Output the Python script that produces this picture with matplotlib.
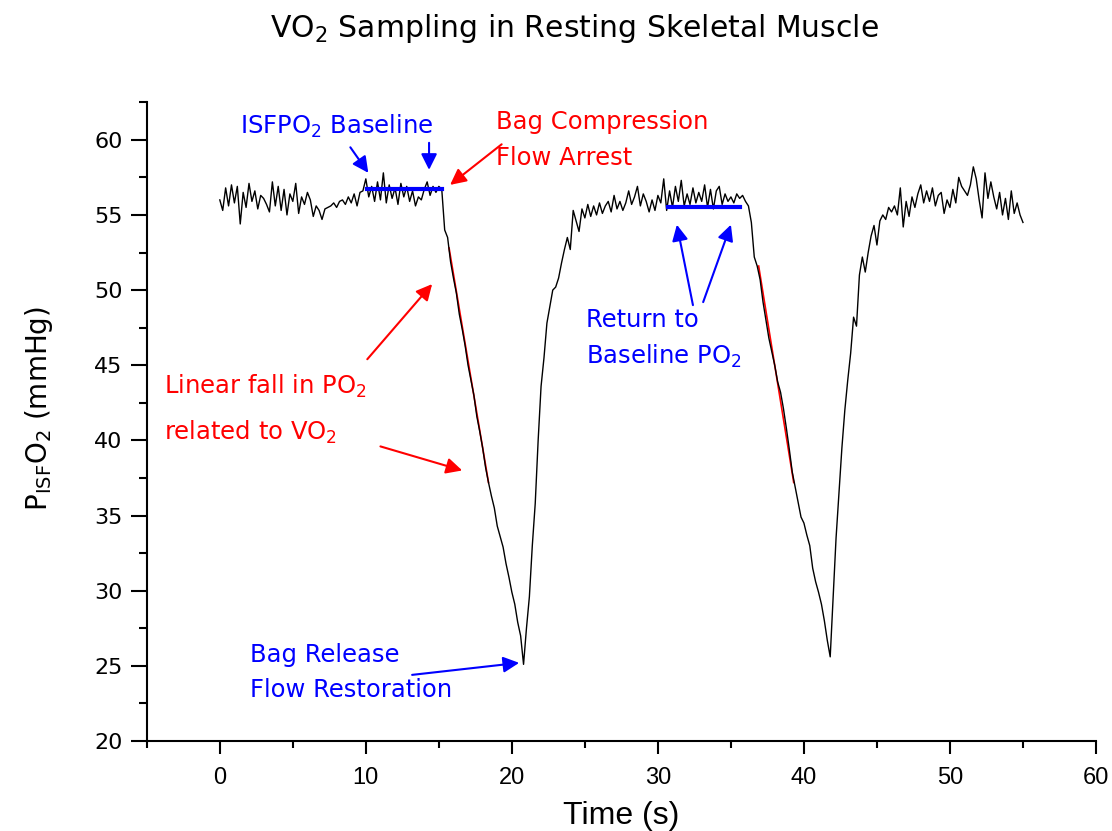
import numpy as np
import matplotlib
matplotlib.use("Agg")
import matplotlib.pyplot as plt
from matplotlib.ticker import MultipleLocator

plt.rcParams['font.family'] = ['DejaVu Sans']
plt.rcParams['mathtext.default'] = 'regular'

# sampled trace: one value every 0.2 s from t = 0 s
dt = 0.2
po2 = [
    56.0, 55.3, 56.8, 55.6, 57.0,
    55.8, 56.9, 54.4, 56.5, 55.5,
    57.1, 55.9, 56.6, 55.4, 56.3,
    56.1, 55.7, 55.2, 57.2, 55.6,
    56.9, 55.3, 56.7, 55.0, 56.4,
    55.9, 57.1, 55.1, 56.2, 55.7,
    56.5, 56.0, 54.9, 55.6, 55.3,
    54.7, 55.4, 55.5, 55.6, 55.8,
    55.5, 55.9, 56.0, 55.7, 56.2,
    55.8, 56.4, 55.6, 56.5, 56.6,
    57.4, 56.2, 56.9, 55.9, 57.2,
    56.0, 57.8, 55.8, 57.0, 56.1,
    56.8, 55.7, 57.1, 56.2, 56.9,
    55.9, 56.6, 55.6, 56.2, 56.0,
    56.7, 57.2, 56.3, 56.9, 56.5,
    56.9, 56.7, 54.0, 53.5, 51.9,
    50.8, 49.8, 48.4, 47.4, 46.3,
    45.0, 44.0, 43.0, 41.6, 40.6,
    39.5, 38.2, 37.2, 36.3, 35.5,
    34.3, 33.6, 32.9, 31.8, 30.9,
    29.9, 29.1, 27.9, 27.0, 25.1,
    27.5, 29.6, 33.0, 35.8, 40.0,
    43.6, 45.5, 47.8, 48.9, 50.0,
    50.2, 50.8, 51.8, 52.7, 53.5,
    52.7, 55.3, 54.6, 53.9, 55.4,
    54.8, 55.7, 54.9, 55.6, 55.0,
    55.8, 55.1, 55.6, 55.9, 55.2,
    56.3, 55.4, 55.9, 55.3, 55.8,
    56.6, 55.7, 56.2, 56.9, 55.6,
    56.4, 55.9, 55.2, 56.0, 55.3,
    56.3, 55.8, 57.4, 55.3, 56.6,
    55.5, 56.9, 55.9, 57.3, 55.6,
    56.4, 55.7, 56.8, 55.8, 56.5,
    55.9, 57.0, 55.5, 56.7, 55.4,
    56.6, 56.9, 55.7, 56.4, 55.9,
    56.2, 55.8, 56.4, 56.1, 56.3,
    55.9, 55.6, 54.5, 52.2, 51.6,
    50.7, 49.2, 48.0, 46.8, 45.9,
    45.0, 43.9, 43.2, 42.1, 40.8,
    39.4, 37.9, 36.9, 35.9, 34.9,
    34.5, 33.7, 33.0, 31.5, 30.6,
    29.9, 29.1, 28.0, 26.7, 25.6,
    29.5, 33.5, 36.5, 39.5, 42.0,
    44.0, 45.8, 48.2, 47.6, 51.0,
    52.2, 51.2, 52.5, 53.6, 54.3,
    53.0, 54.6, 55.0, 54.7, 55.5,
    55.2, 55.6, 55.0, 56.8, 54.2,
    55.9, 54.9, 56.2, 55.5, 56.4,
    57.0, 55.8, 56.6, 55.9, 56.8,
    55.6, 56.3, 56.5, 55.1, 56.0,
    55.5, 56.7, 55.8, 57.5, 56.9,
    56.6, 56.3, 57.0, 58.2, 57.4,
    56.0, 54.8, 57.8, 56.1, 57.2,
    56.2, 55.4, 56.5, 55.0, 56.1,
    54.7, 56.6, 55.1, 55.8, 55.0,
    54.5,
]
time = np.arange(len(po2)) * dt

# linear fits of the fall
fit1_t = [15.7, 18.4]
fit1_v = [52.8, 37.2]
fit2_t = [36.9, 39.3]
fit2_v = [51.6, 37.2]

# baselines
base1_t = [10.1, 15.2]
base1_v = [56.7, 56.7]
base2_t = [30.7, 35.6]
base2_v = [55.5, 55.5]

fig = plt.figure(figsize=(11.12, 8.31), dpi=100)
ax = fig.add_axes([0.132, 0.1083, 0.8536, 0.7687])

ax.plot(time, po2, color='black', lw=1.0, zorder=3)
ax.plot(fit1_t, fit1_v, color='red', lw=1.2, zorder=2)
ax.plot(fit2_t, fit2_v, color='red', lw=1.2, zorder=2)
ax.plot(base1_t, base1_v, color='blue', lw=3, zorder=4)
ax.plot(base2_t, base2_v, color='blue', lw=3, zorder=4)

ax.set_xlim(-5, 60)
ax.set_ylim(20, 62.5)
ax.spines['top'].set_visible(False)
ax.spines['right'].set_visible(False)
for s in ('left', 'bottom'):
    ax.spines[s].set_linewidth(1.5)
ax.xaxis.set_major_locator(MultipleLocator(10))
ax.xaxis.set_minor_locator(MultipleLocator(5))
ax.yaxis.set_major_locator(MultipleLocator(5))
ax.yaxis.set_minor_locator(MultipleLocator(2.5))
ax.tick_params(axis='x', which='major', length=9, width=1.5, pad=10)
ax.tick_params(axis='x', which='minor', length=5, width=1.5)
ax.tick_params(axis='y', which='major', length=11.5, width=1.5, pad=6)
ax.tick_params(axis='y', which='minor', length=6, width=1.5)
for lab in ax.get_xticklabels():
    lab.set_fontfamily(['Liberation Sans Narrow', 'Liberation Sans'])
    lab.set_fontsize(17)
for lab in ax.get_yticklabels():
    lab.set_fontsize(16)

ax.set_xlabel('Time (s)', fontsize=23, fontfamily=['Liberation Sans Narrow', 'Liberation Sans'], labelpad=8)
ax.set_ylabel(r'P$_{ISF}$O$_2$ (mmHg)', fontsize=20, labelpad=10)
ax.yaxis.set_label_coords(-0.097, 0.52)
fig.suptitle(r'VO$_2$ Sampling in Resting Skeletal Muscle', fontsize=21.5, x=0.517, y=0.985)

arrow_blue = dict(arrowstyle='-|>', color='blue', lw=1.5, mutation_scale=24, shrinkA=0, shrinkB=0)
arrow_red = dict(arrowstyle='-|>', color='red', lw=1.5, mutation_scale=24, shrinkA=0, shrinkB=0)

fs = 17.5
ax.text(1.4, 60.9, r'ISFPO$_2$ Baseline', color='blue', fontsize=fs, va='center')
ax.annotate('', xy=(10.17, 57.8), xytext=(8.94, 59.5), arrowprops=arrow_blue)
ax.annotate('', xy=(14.33, 58.0), xytext=(14.33, 59.8), arrowprops=arrow_blue)

ax.text(18.9, 61.2, 'Bag Compression', color='red', fontsize=fs, va='center')
ax.text(18.9, 58.8, 'Flow Arrest', color='red', fontsize=fs, va='center')
ax.annotate('', xy=(15.77, 57.0), xytext=(19.3, 59.7), arrowprops=arrow_red)

ax.text(-3.8, 43.6, r'Linear fall in PO$_2$', color='red', fontsize=fs, va='center')
ax.text(-3.8, 40.5, r'related to VO$_2$', color='red', fontsize=fs, va='center')
ax.annotate('', xy=(14.54, 50.4), xytext=(10.1, 45.4), arrowprops=arrow_red)
ax.annotate('', xy=(16.6, 38.0), xytext=(11.0, 39.6), arrowprops=arrow_red)

ax.text(2.05, 25.7, 'Bag Release', color='blue', fontsize=fs, va='center')
ax.text(2.05, 23.4, 'Flow Restoration', color='blue', fontsize=fs, va='center')
ax.annotate('', xy=(20.5, 25.2), xytext=(13.17, 24.4), arrowprops=arrow_blue)

ax.text(25.1, 48.0, 'Return to', color='blue', fontsize=fs, va='center')
ax.text(25.1, 45.6, r'Baseline PO$_2$', color='blue', fontsize=fs, va='center')
ax.annotate('', xy=(31.3, 54.35), xytext=(32.4, 49.0), arrowprops=arrow_blue)
ax.annotate('', xy=(35.0, 54.35), xytext=(33.1, 49.2), arrowprops=arrow_blue)

fig.savefig('out.png', dpi=100)
